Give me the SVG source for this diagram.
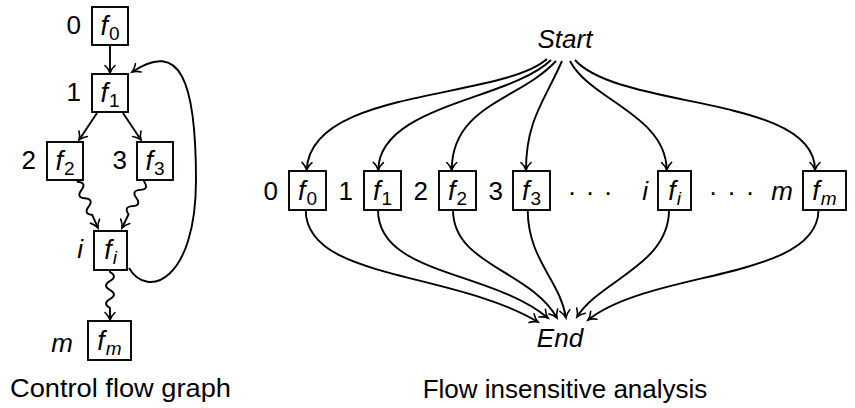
<svg xmlns="http://www.w3.org/2000/svg" width="855" height="408" viewBox="0 0 855 408">
<style>
text{font-family:"Liberation Sans",Arial,sans-serif;font-size:26px;fill:#000}
.it{font-style:italic}
.f{font-size:27px}
.sub{font-size:19px}
.box{fill:#fff;stroke:#000;stroke-width:1.9}
.e{fill:none;stroke:#000;stroke-width:1.9;marker-end:url(#ar)}
.cap{font-size:26px}
</style>
<defs>
<marker id="ar" markerWidth="12" markerHeight="12" viewBox="-10 -6 12 12" refX="0" refY="0" orient="auto" markerUnits="userSpaceOnUse" overflow="visible">
<path d="M-7.5,-5 C-5,-2.2 -2.2,-0.7 0,0 C-2.2,0.7 -5,2.2 -7.5,5" fill="none" stroke="#000" stroke-width="1.6" stroke-linecap="round"/>
</marker>
</defs>
<g id="connectors">
<path class="e" d="M110,45 L110,73"/>
<path class="e" d="M97,113 L79,140"/>
<path class="e" d="M123,113 L141,140"/>
<path class="e" d="M77,180 L77.8,181.8 Q86.94,182.74 81.41,190.08 Q75.89,197.41 85.02,198.32 Q94.15,199.23 88.63,206.56 Q83.10,213.90 92.24,214.81 L98,228"/>
<path class="e" d="M145,180 L144.14,181.8 Q149.41,189.32 140.25,189.92 Q131.08,190.52 136.36,198.04 Q141.64,205.56 132.47,206.16 Q123.31,206.76 128.58,214.28 L122,228"/>
<path class="e" d="M110,270 L110,272 Q118,276.5 110,281 Q102,285.5 110,290 Q118,294.5 110,299 Q102,303.5 110,308 L110,320"/>
<path class="e" d="M129,268 C148,300 196,280 196,180 C196,80 180,40 132,72"/>
<path class="e" d="M547,59 C500,100 310,88 306.7,170"/>
<path class="e" d="M551,60 C510,100 379,105 378.3,170"/>
<path class="e" d="M556,61 C520,100 452,105 451.7,170"/>
<path class="e" d="M562,61 C545,100 526,120 526,170"/>
<path class="e" d="M570,61 C590,100 666,115 666.7,170"/>
<path class="e" d="M575,60 C620,110 815,95 815,170"/>
<path class="e" d="M305.7,210 C306,280 450,270 538,322"/>
<path class="e" d="M378,210 C378,275 490,270 548,318"/>
<path class="e" d="M453,210 C453,265 530,270 557,318"/>
<path class="e" d="M527.7,210 C528,260 560,280 566,318"/>
<path class="e" d="M669,210 C669,265 600,280 577,317"/>
<path class="e" d="M818.5,210 C818,280 650,270 588,320"/>
</g>
<g id="cfg-f0"><rect class="box" x="92" y="7" width="36" height="38"/><text x="110" y="35" text-anchor="middle"><tspan class="it f">f</tspan><tspan class="sub" dx="1" dy="5">0</tspan></text><text x="81" y="34" text-anchor="end">0</text></g>
<g id="cfg-f1"><rect class="box" x="92" y="74" width="36" height="38"/><text x="110" y="102" text-anchor="middle"><tspan class="it f">f</tspan><tspan class="sub" dx="1" dy="5">1</tspan></text><text x="81" y="101" text-anchor="end">1</text></g>
<g id="cfg-f2"><rect class="box" x="47" y="142" width="36" height="38"/><text x="65" y="170" text-anchor="middle"><tspan class="it f">f</tspan><tspan class="sub" dx="1" dy="5">2</tspan></text><text x="36" y="169" text-anchor="end">2</text></g>
<g id="cfg-f3"><rect class="box" x="137" y="142" width="36" height="38"/><text x="155" y="170" text-anchor="middle"><tspan class="it f">f</tspan><tspan class="sub" dx="1" dy="5">3</tspan></text><text x="127" y="169" text-anchor="end">3</text></g>
<g id="cfg-fi"><rect class="box" x="94" y="231" width="33" height="39"/><text x="110.5" y="259" text-anchor="middle"><tspan class="it f">f</tspan><tspan class="sub it" dx="1" dy="5">i</tspan></text><text class="it" x="83" y="258" text-anchor="end">i</text></g>
<g id="cfg-fm"><rect class="box" x="88" y="321" width="43" height="39"/><text x="109.5" y="350" text-anchor="middle"><tspan class="it f">f</tspan><tspan class="sub it" dx="1" dy="5">m</tspan></text><text class="it" x="73" y="352" text-anchor="end">m</text></g>
<g id="start"><text class="it cap" x="565" y="48" text-anchor="middle">Start</text></g>
<g id="end"><text class="it cap" x="560" y="347" text-anchor="middle">End</text></g>
<g id="fi-f0"><rect class="box" x="289" y="171" width="37" height="39"/><text x="307.5" y="200" text-anchor="middle"><tspan class="it f">f</tspan><tspan class="sub" dx="1" dy="5">0</tspan></text><text x="278" y="200" text-anchor="end">0</text></g>
<g id="fi-f1"><rect class="box" x="364" y="171" width="37" height="39"/><text x="382.5" y="200" text-anchor="middle"><tspan class="it f">f</tspan><tspan class="sub" dx="1" dy="5">1</tspan></text><text x="353" y="200" text-anchor="end">1</text></g>
<g id="fi-f2"><rect class="box" x="439" y="171" width="37" height="39"/><text x="457.5" y="200" text-anchor="middle"><tspan class="it f">f</tspan><tspan class="sub" dx="1" dy="5">2</tspan></text><text x="428" y="200" text-anchor="end">2</text></g>
<g id="fi-f3"><rect class="box" x="513" y="171" width="37" height="39"/><text x="531.5" y="200" text-anchor="middle"><tspan class="it f">f</tspan><tspan class="sub" dx="1" dy="5">3</tspan></text><text x="503" y="200" text-anchor="end">3</text></g>
<g id="dots1"><text font-size="30" text-anchor="middle" y="201"><tspan x="572">·</tspan><tspan x="590">·</tspan><tspan x="608">·</tspan></text></g>
<g id="fi-fi"><rect class="box" x="658" y="171" width="33" height="39"/><text x="674.5" y="200" text-anchor="middle"><tspan class="it f">f</tspan><tspan class="sub it" dx="1" dy="5">i</tspan></text><text class="it" x="648" y="200" text-anchor="end">i</text></g>
<g id="dots2"><text font-size="30" text-anchor="middle" y="201"><tspan x="713">·</tspan><tspan x="731.5">·</tspan><tspan x="750">·</tspan></text></g>
<g id="fi-fm"><rect class="box" x="803" y="171" width="43" height="39"/><text x="824.5" y="200" text-anchor="middle"><tspan class="it f">f</tspan><tspan class="sub it" dx="1" dy="5">m</tspan></text><text class="it" x="793" y="200" text-anchor="end">m</text></g>
<g id="captions"><text class="cap" x="10" y="397" textLength="221" lengthAdjust="spacingAndGlyphs">Control flow graph</text><text class="cap" x="565" y="398" text-anchor="middle">Flow insensitive analysis</text></g>
</svg>
